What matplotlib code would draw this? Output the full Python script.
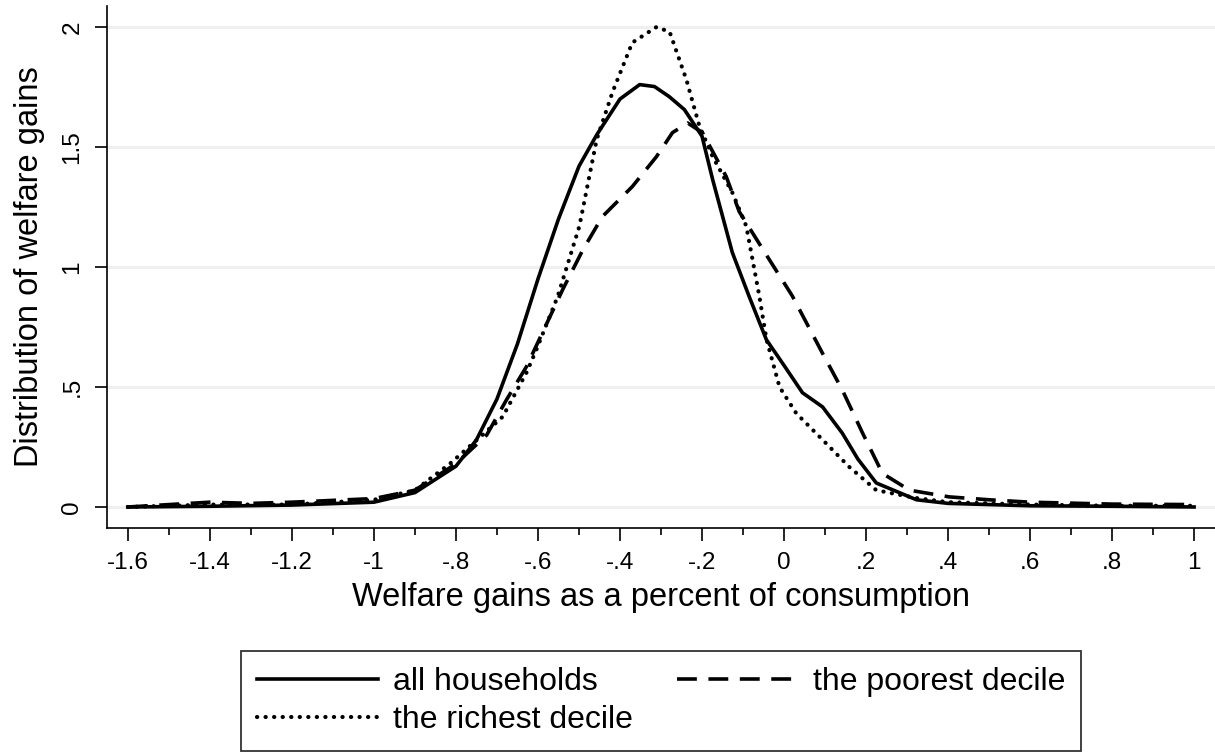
import matplotlib.pyplot as plt

plt.rcParams['font.family'] = ['Liberation Sans', 'DejaVu Sans']

# all households (solid)
x_all = [-1.6, -1.4, -1.2, -1.0, -0.9, -0.8, -0.75, -0.7, -0.65, -0.6, -0.55, -0.5, -0.457,
         -0.4, -0.352, -0.316, -0.28, -0.243, -0.2, -0.174, -0.126, -0.085, -0.043, 0.0,
         0.045, 0.094, 0.142, 0.18, 0.225, 0.323, 0.4, 0.6, 0.8, 1.0]
y_all = [0.0, 0.003, 0.008, 0.02, 0.06, 0.17, 0.28, 0.45, 0.68, 0.95, 1.2, 1.42, 1.55,
         1.7, 1.76, 1.752, 1.71, 1.656, 1.545, 1.364, 1.06, 0.877, 0.697, 0.59,
         0.476, 0.417, 0.308, 0.2, 0.1, 0.03, 0.015, 0.005, 0.003, 0.0]

# the poorest decile (dashed)
x_poor = [-1.6, -1.5, -1.4, -1.3, -1.2, -1.0, -0.9, -0.8, -0.725, -0.677, -0.628, -0.54, -0.491,
          -0.443, -0.37, -0.311, -0.272, -0.235, -0.199, -0.141, -0.109, -0.043, 0.02,
          0.094, 0.142, 0.191, 0.24, 0.306, 0.403, 0.5, 0.6, 0.8, 1.0]
y_poor = [0.0, 0.01, 0.02, 0.015, 0.02, 0.035, 0.07, 0.18, 0.3, 0.446, 0.585, 0.905, 1.07,
          1.21, 1.335, 1.46, 1.56, 1.6, 1.56, 1.377, 1.23, 1.05, 0.88,
          0.64, 0.488, 0.31, 0.14, 0.07, 0.042, 0.03, 0.02, 0.012, 0.01]

# the richest decile (dotted)
x_rich = [-1.6, -1.4, -1.2, -1.0, -0.9, -0.815, -0.742, -0.686, -0.628, -0.604, -0.552, -0.499,
          -0.457, -0.418, -0.37, -0.311, -0.279, -0.238, -0.206, -0.174, -0.126, -0.092,
          -0.06, -0.043, -0.011, 0.03, 0.094, 0.159, 0.225, 0.323, 0.4, 0.6, 0.8, 1.0]
y_rich = [0.0, 0.01, 0.01, 0.03, 0.07, 0.18, 0.29, 0.376, 0.56, 0.655, 0.877, 1.17,
          1.53, 1.73, 1.935, 2.0, 1.98, 1.78, 1.585, 1.46, 1.31, 1.17,
          0.877, 0.70, 0.5, 0.39, 0.28, 0.167, 0.07, 0.037, 0.02, 0.01, 0.005, 0.005]

xticks = [-1.6, -1.4, -1.2, -1, -0.8, -0.6, -0.4, -0.2, 0, 0.2, 0.4, 0.6, 0.8, 1]
xticklabels = ['-1.6', '-1.4', '-1.2', '-1', '-.8', '-.6', '-.4', '-.2', '0', '.2', '.4', '.6', '.8', '1']
yticks = [0, 0.5, 1, 1.5, 2]
yticklabels = ['0', '.5', '1', '1.5', '2']

fig = plt.figure(figsize=(12.15, 7.53), dpi=100)
ax = fig.add_axes([107/1215, 1-528/753, 1108/1215, 522/753])

for yv in yticks:
    ax.axhline(yv, color='#efefef', lw=2.2, zorder=0)

ax.plot(x_all, y_all, color='black', lw=2.6, ls='-', solid_joinstyle='round', label='all households')
ax.plot(x_poor, y_poor, color='black', lw=2.6, ls=(0, (5.5, 3.2)), label='the poorest decile')
ax.plot(x_rich, y_rich, color='black', lw=3.0, ls=(0, (0.05, 2.0)), dash_capstyle='round',
        label='the richest decile')

ax.set_xlim(-1.651, 1.051)
ax.set_ylim(-0.0876, 2.0876)
ax.set_xticks(xticks)
ax.set_xticklabels(xticklabels, fontsize=17.5)
ax.set_xticks([-1.5, -1.3, -1.1, -0.9, -0.7, -0.5, -0.3, -0.1, 0.1, 0.3, 0.5, 0.7, 0.9], minor=True)
ax.set_yticks(yticks)
ax.set_yticklabels(yticklabels, fontsize=17.5, rotation=90, va='center')
ax.tick_params(axis='both', which='major', length=9, width=1.2, direction='out', pad=8)
ax.tick_params(axis='x', which='minor', length=5, width=1.2, direction='out')
for s in ['top', 'right']:
    ax.spines[s].set_visible(False)
ax.spines['left'].set_linewidth(1.2)
ax.spines['bottom'].set_linewidth(1.2)

ax.set_xlabel('Welfare gains as a percent of consumption', fontsize=23.5, labelpad=6)
ax.set_ylabel('Distribution of welfare gains', fontsize=23.5, labelpad=12)

h, l = ax.get_legend_handles_labels()
order = [0, 2, 1]
leg = fig.legend([h[i] for i in order], [l[i] for i in order], ncol=2,
                 loc='lower center', bbox_to_anchor=(661/1215, 0.0),
                 fontsize=23, frameon=True, fancybox=False, edgecolor='black',
                 handlelength=3.8, handletextpad=0.45, columnspacing=1.4,
                 labelspacing=0.25, borderpad=0.5, borderaxespad=0.05)
leg.get_frame().set_linewidth(1.3)

fig.savefig('out.png', dpi=100)
